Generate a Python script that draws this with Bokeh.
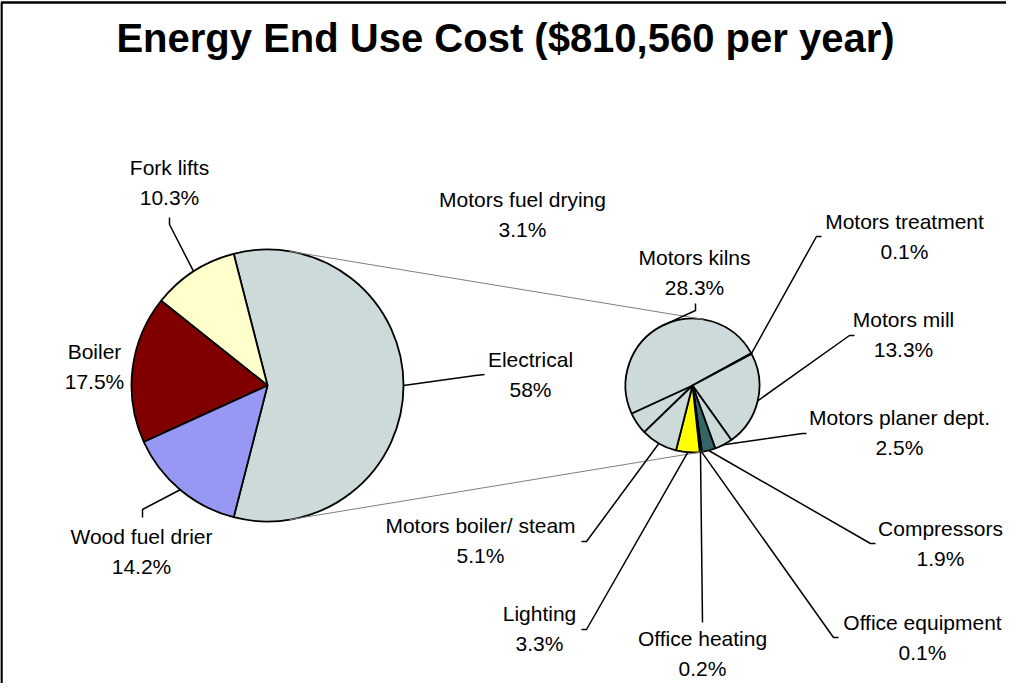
import math
from bokeh.plotting import figure
from bokeh.models import Range1d
from bokeh.embed import file_html
from bokeh.resources import INLINE
from bokeh.core.properties import value

# ---------------- data ----------------
title_text = "Energy End Use Cost ($810,560 per year)"

main_labels = ["Electrical", "Fork lifts", "Boiler", "Wood fuel drier"]
main_values = [58.0, 10.3, 17.5, 14.2]
main_pct_text = ["58%", "10.3%", "17.5%", "14.2%"]

sub_labels = ["Motors fuel drying", "Motors kilns", "Motors treatment", "Motors mill",
              "Motors planer dept.", "Compressors", "Office equipment", "Office heating",
              "Lighting", "Motors boiler/ steam"]
sub_values = [3.1, 28.3, 0.1, 13.3, 2.5, 1.9, 0.1, 0.2, 3.3, 5.1]

# ---------------- styles ----------------
GREY = "#cddada"
main_colors = [GREY, "#ffffcc", "#800000", "#9797f4"]
sub_colors = [GREY, GREY, GREY, GREY, GREY, "#336666", "#1a1a1a", "#1a1a1a", "#ffff00", GREY]
FONT = "Liberation Sans"
TITLE_FS = 40
LABEL_FS = 21
BASELINE_FIX = 0.36  # em; renderer places 'alphabetic' text slightly low

# ---------------- layout (screen px) ----------------
WIN_H = 699
W, H = 1006, 683
C1 = (275, 393); R1 = 136
C2 = (700, 393); R2 = 67
SUB_START_DEG = 224.0
LINE_GAP = 30

label_pos = {
    "Fork lifts": (177, 183),
    "Boiler": (102, 367),
    "Wood fuel drier": (149, 552),
    "Electrical": (538, 375),
    "Motors fuel drying": (530, 215),
    "Motors kilns": (702, 273),
    "Motors treatment": (912, 237),
    "Motors mill": (911, 335),
    "Motors planer dept.": (907, 433),
    "Compressors": (948, 544),
    "Office equipment": (930, 638),
    "Office heating": (710, 654),
    "Lighting": (547, 629),
    "Motors boiler/ steam": (488, 541),
}
leader_pts = {
    "Fork lifts": [(177, 232), (177, 225)],
    "Wood fuel drier": [(150, 517), (150, 525)],
    "Electrical": [(483, 383), (492, 382)],
    "Motors kilns": [(703, 318), (703, 311)],
    "Motors treatment": [(824, 244), (829, 244)],
    "Motors mill": [(857, 343), (862, 343)],
    "Motors planer dept.": [(810, 441), (814, 441)],
    "Compressors": [(878, 551), (883, 551)],
    "Office equipment": [(841, 645), (846, 645)],
    "Office heating": [(710, 630)],
    "Lighting": [(594, 637), (589, 637)],
    "Motors boiler/ steam": [(594, 549), (589, 549)],
}


def Y(sy):
    return WIN_H - sy


def YT(sy, fs):
    return WIN_H - (sy - BASELINE_FIX * fs)


p = figure(width=W, height=H, x_range=Range1d(8, 8 + W), y_range=Range1d(WIN_H - 8 - H, WIN_H - 8),
           output_backend="svg", toolbar_location=None, min_border=0,
           x_axis_type=None, y_axis_type=None)
p.xgrid.visible = False
p.ygrid.visible = False
p.outline_line_color = None
p.background_fill_color = "white"
p.border_fill_color = "white"

# chart border (top + left)
p.line(x=[9, 9, 2000], y=[-100, Y(10), Y(10)], line_color="black", line_width=2.5)

# title
p.text(x=[513], y=[YT(60, TITLE_FS)], text=[title_text], text_font=value(FONT), text_font_style="bold",
       text_font_size=f"{TITLE_FS}px", text_align="center", text_baseline="alphabetic", text_color="black")

mid_angle = {}
radius_of = {}
center_of = {}

# ---------------- main pie ----------------
total_main = sum(main_values)
span0 = main_values[0] / total_main * 2 * math.pi
a = -span0 / 2
ms, me = [], []
for lab, v in zip(main_labels, main_values):
    s = v / total_main * 2 * math.pi
    ms.append(a); me.append(a + s)
    mid_angle[lab] = a + s / 2
    radius_of[lab] = R1
    center_of[lab] = C1
    a += s
p.wedge(x=[C1[0]] * len(ms), y=[Y(C1[1])] * len(ms), radius=R1, start_angle=ms, end_angle=me,
        direction="anticlock", fill_color=main_colors, line_color="black", line_width=1.8)

# ---------------- second pie ----------------
total_sub = sum(sub_values)
a = math.radians(SUB_START_DEG)
ss, se = [], []
for lab, v in zip(sub_labels, sub_values):
    s = v / total_sub * 2 * math.pi
    ss.append(a - s); se.append(a)
    mid_angle[lab] = a - s / 2
    radius_of[lab] = R2
    center_of[lab] = C2
    a -= s
p.wedge(x=[C2[0]] * len(ss), y=[Y(C2[1])] * len(ss), radius=R2, start_angle=ss, end_angle=se,
        direction="anticlock", fill_color=sub_colors, line_color="black", line_width=1.8)

# ---------------- connector lines (external common tangents) ----------------
d = C2[0] - C1[0]
nx = (R1 - R2) / d
ny = math.sqrt(1 - nx * nx)
cxs, cys = [], []
for sgn in (1, -1):
    cxs.append([C1[0] + R1 * nx, C2[0] + R2 * nx])
    cys.append([Y(C1[1]) + sgn * R1 * ny, Y(C2[1]) + sgn * R2 * ny])
p.multi_line(xs=cxs, ys=cys, line_color="#7f7f7f", line_width=1)

# ---------------- labels & leaders ----------------
pct_text = dict(zip(main_labels, main_pct_text))
for lab, v in zip(sub_labels, sub_values):
    pct_text[lab] = f"{v:.1f}%"

lx, ly, lt = [], [], []
for lab, (x, y) in label_pos.items():
    lx += [x, x]
    ly += [YT(y, LABEL_FS), YT(y + LINE_GAP, LABEL_FS)]
    lt += [lab, pct_text[lab]]
p.text(x=lx, y=ly, text=lt, text_font=value(FONT), text_font_size=f"{LABEL_FS}px",
       text_align="center", text_baseline="alphabetic", text_color="black")

lxs, lys = [], []
for lab, pts in leader_pts.items():
    c = center_of[lab]; r = radius_of[lab]; ang = mid_angle[lab]
    xs = [c[0] + r * math.cos(ang)]
    ys = [Y(c[1]) + r * math.sin(ang)]
    for (px, py) in pts:
        xs.append(px); ys.append(Y(py))
    lxs.append(xs); lys.append(ys)
p.multi_line(xs=lxs, ys=lys, line_color="black", line_width=1.5)

open("out.html", "w").write(file_html(p, INLINE))
